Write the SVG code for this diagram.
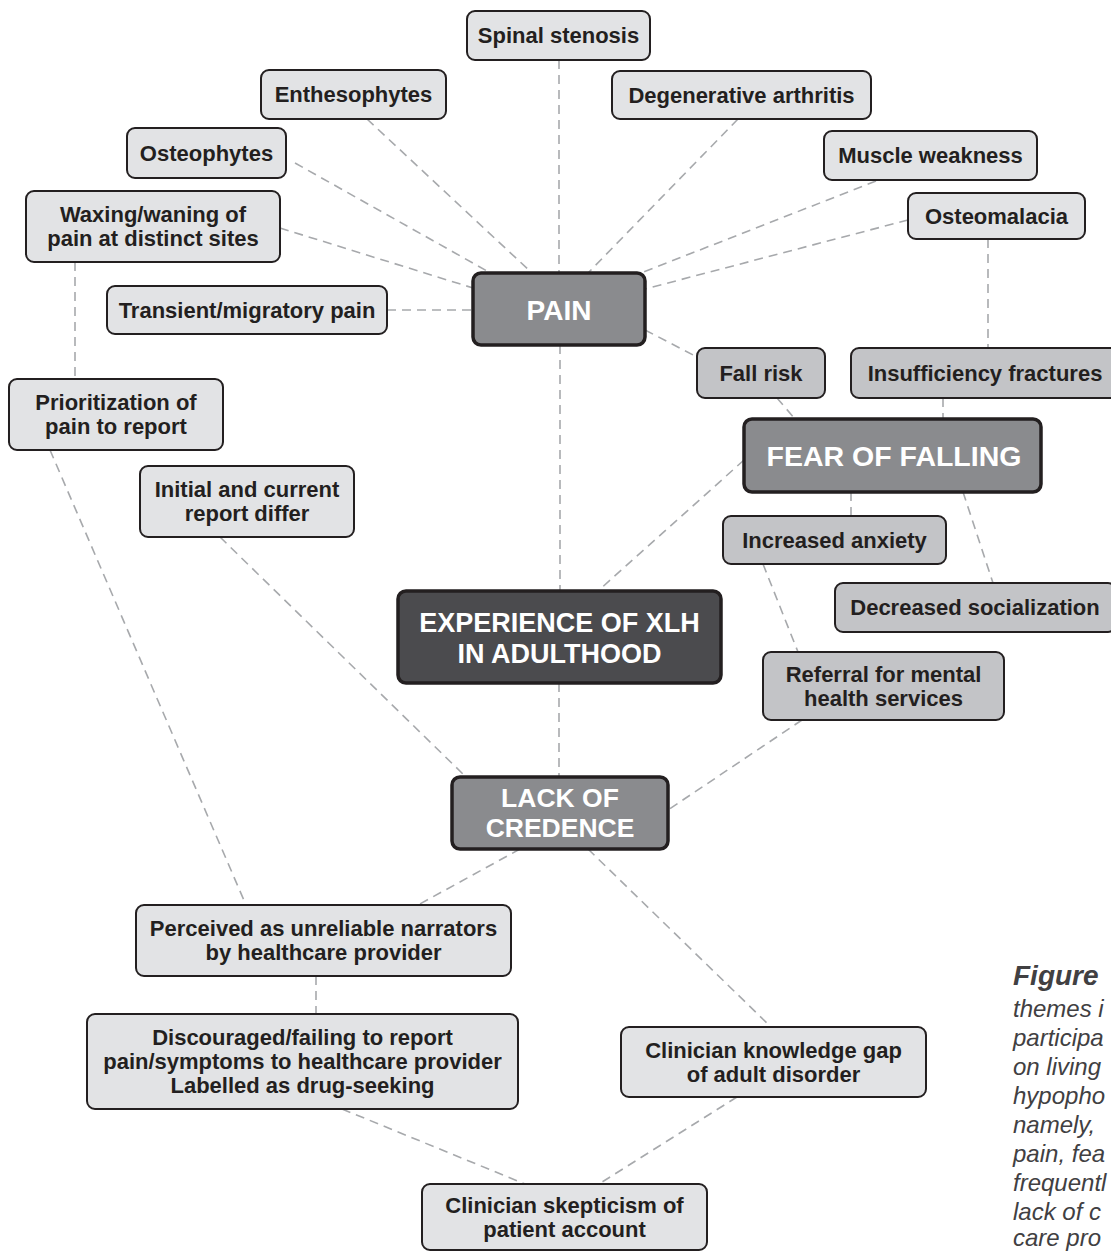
<svg xmlns="http://www.w3.org/2000/svg" width="1111" height="1251" viewBox="0 0 1111 1251">
<style>
.bg{fill:#ffffff}
#connectors line{stroke:#a7a9ac;stroke-width:1.6;stroke-dasharray:9 6;fill:none}
.n rect{fill:#e2e3e5;stroke:#231f20;stroke-width:2}
.m rect{fill:#c3c4c7;stroke:#231f20;stroke-width:2}
.t rect{fill:#8a8b8e;stroke:#231f20;stroke-width:3.5}
.c rect{fill:#4b4b4e;stroke:#231f20;stroke-width:3.5}
.n text,.m text{font-family:"Liberation Sans",Arial,sans-serif;font-weight:bold;font-size:22px;fill:#231f20;text-anchor:middle}
.t text,.c text{font-family:"Liberation Sans",Arial,sans-serif;font-weight:bold;fill:#ffffff;text-anchor:middle}
.cap{font-family:"Liberation Sans",Arial,sans-serif;font-style:italic;font-size:24px;fill:#414042}
.capt{font-family:"Liberation Sans",Arial,sans-serif;font-style:italic;font-weight:bold;font-size:28px;fill:#414042}
</style>
<rect class="bg" x="0" y="0" width="1111" height="1251"/>
<g id="connectors">
<line x1="559" y1="60" x2="559" y2="273"/>
<line x1="367" y1="119" x2="532" y2="273"/>
<line x1="295" y1="163" x2="487" y2="271"/>
<line x1="280" y1="228" x2="473" y2="288"/>
<line x1="387" y1="310" x2="473" y2="310"/>
<line x1="738" y1="119" x2="588" y2="273"/>
<line x1="876" y1="181" x2="641" y2="273"/>
<line x1="908" y1="220" x2="645" y2="289"/>
<line x1="988" y1="239" x2="988" y2="348"/>
<line x1="645" y1="330" x2="697" y2="357"/>
<line x1="777" y1="398" x2="795" y2="419"/>
<line x1="943" y1="398" x2="943" y2="419"/>
<line x1="744" y1="460" x2="598" y2="591"/>
<line x1="560" y1="345" x2="560" y2="591"/>
<line x1="851" y1="492" x2="851" y2="516"/>
<line x1="963" y1="492" x2="993" y2="583"/>
<line x1="763" y1="564" x2="798" y2="652"/>
<line x1="802" y1="720" x2="668" y2="810"/>
<line x1="559" y1="683" x2="559" y2="777"/>
<line x1="220" y1="537" x2="466" y2="777"/>
<line x1="75" y1="262" x2="75" y2="379"/>
<line x1="50" y1="450" x2="246" y2="905"/>
<line x1="520" y1="849" x2="418" y2="905"/>
<line x1="588" y1="849" x2="771" y2="1027"/>
<line x1="316" y1="976" x2="316" y2="1014"/>
<line x1="342" y1="1109" x2="525" y2="1184"/>
<line x1="737" y1="1097" x2="599" y2="1184"/>
</g>
<g id="spinal-stenosis" class="n"><rect x="467" y="11" width="183" height="49" rx="8"/><text x="558.5" y="43">Spinal stenosis</text></g>
<g id="enthesophytes" class="n"><rect x="261" y="70" width="185" height="49" rx="8"/><text x="353.5" y="102">Enthesophytes</text></g>
<g id="osteophytes" class="n"><rect x="127" y="128" width="159" height="50" rx="8"/><text x="206.5" y="161">Osteophytes</text></g>
<g id="waxing-waning" class="n"><rect x="26" y="191" width="254" height="71" rx="8"/><text x="153" y="222">Waxing/waning of</text><text x="153" y="246">pain at distinct sites</text></g>
<g id="transient-pain" class="n"><rect x="107" y="286" width="280" height="48" rx="8"/><text x="247" y="318">Transient/migratory pain</text></g>
<g id="degenerative-arthritis" class="n"><rect x="612" y="71" width="259" height="48" rx="8"/><text x="741.5" y="103">Degenerative arthritis</text></g>
<g id="muscle-weakness" class="n"><rect x="824" y="131" width="213" height="49" rx="8"/><text x="930.5" y="163">Muscle weakness</text></g>
<g id="osteomalacia" class="n"><rect x="908" y="193" width="177" height="46" rx="8"/><text x="996.5" y="224">Osteomalacia</text></g>
<g id="pain" class="t"><rect x="473" y="273" width="172" height="72" rx="8"/><text x="559" y="320" font-size="28">PAIN</text></g>
<g id="fall-risk" class="m"><rect x="697" y="348" width="128" height="50" rx="8"/><text x="761" y="381">Fall risk</text></g>
<g id="insufficiency-fractures" class="m"><rect x="851" y="348" width="268" height="50" rx="8"/><text x="985" y="381">Insufficiency fractures</text></g>
<g id="fear-of-falling" class="t"><rect x="744" y="419" width="297" height="73" rx="8"/><text x="894" y="466" font-size="28.5">FEAR OF FALLING</text></g>
<g id="increased-anxiety" class="m"><rect x="723" y="516" width="223" height="48" rx="8"/><text x="834.5" y="548">Increased anxiety</text></g>
<g id="decreased-socialization" class="m"><rect x="835" y="583" width="281" height="49" rx="8"/><text x="975" y="615">Decreased socialization</text></g>
<g id="referral" class="m"><rect x="763" y="652" width="241" height="68" rx="8"/><text x="883.5" y="682">Referral for mental</text><text x="883.5" y="706">health services</text></g>
<g id="experience" class="c"><rect x="398" y="591" width="323" height="92" rx="8"/><text x="559.5" y="632" font-size="27">EXPERIENCE OF XLH</text><text x="559.5" y="663" font-size="27">IN ADULTHOOD</text></g>
<g id="prioritization" class="n"><rect x="9" y="379" width="214" height="71" rx="8"/><text x="116" y="410">Prioritization of</text><text x="116" y="434">pain to report</text></g>
<g id="initial-current" class="n"><rect x="140" y="466" width="214" height="71" rx="8"/><text x="247" y="497">Initial and current</text><text x="247" y="521">report differ</text></g>
<g id="lack-of-credence" class="t"><rect x="452" y="777" width="216" height="72" rx="8"/><text x="560" y="807" font-size="26.5">LACK OF</text><text x="560" y="837" font-size="26.5">CREDENCE</text></g>
<g id="perceived-unreliable" class="n"><rect x="136" y="905" width="375" height="71" rx="8"/><text x="323.5" y="936">Perceived as unreliable narrators</text><text x="323.5" y="960">by healthcare provider</text></g>
<g id="discouraged" class="n"><rect x="87" y="1014" width="431" height="95" rx="8"/><text x="302.5" y="1045">Discouraged/failing to report</text><text x="302.5" y="1069">pain/symptoms to healthcare provider</text><text x="302.5" y="1093">Labelled as drug-seeking</text></g>
<g id="knowledge-gap" class="n"><rect x="621" y="1027" width="305" height="70" rx="8"/><text x="773.5" y="1058">Clinician knowledge gap</text><text x="773.5" y="1082">of adult disorder</text></g>
<g id="skepticism" class="n"><rect x="422" y="1184" width="285" height="66" rx="8"/><text x="564.5" y="1213">Clinician skepticism of</text><text x="564.5" y="1237">patient account</text></g>
<g id="caption">
<text class="capt" x="1013" y="985">Figure</text>
<text class="cap" x="1013" y="1017">themes i</text>
<text class="cap" x="1013" y="1046">participa</text>
<text class="cap" x="1013" y="1075">on living</text>
<text class="cap" x="1013" y="1104">hypopho</text>
<text class="cap" x="1013" y="1133">namely,</text>
<text class="cap" x="1013" y="1162">pain, fea</text>
<text class="cap" x="1013" y="1191">frequentl</text>
<text class="cap" x="1013" y="1220">lack of c</text>
<text class="cap" x="1013" y="1246">care pro</text>
</g>
</svg>
